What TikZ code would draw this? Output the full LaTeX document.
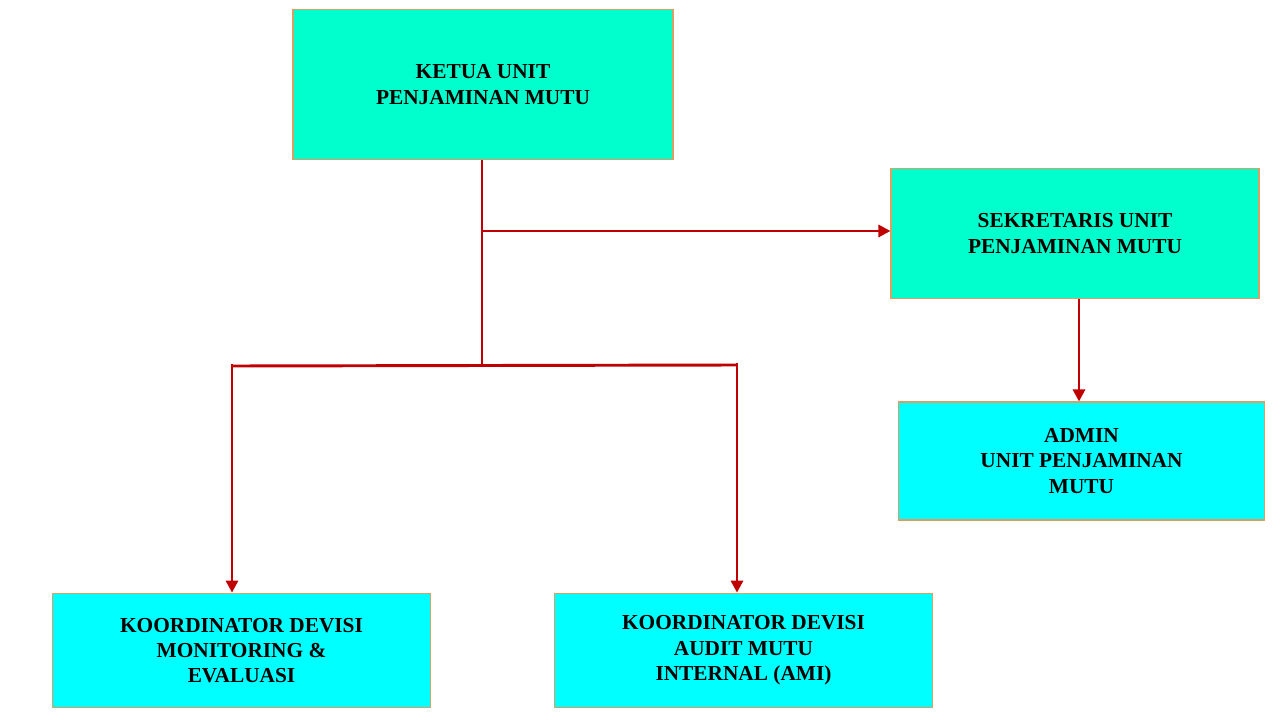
\documentclass[tikz,border=0pt]{standalone}
\usepackage{fontspec}
\setmainfont{Liberation Serif}
\usetikzlibrary{arrows.meta}
\definecolor{aqua}{HTML}{00FFCC}
\definecolor{cyanb}{HTML}{00FFFF}
\definecolor{bord}{HTML}{D9A066}
\definecolor{ln}{HTML}{C00000}
\tikzset{
 box/.style={draw=bord,line width=0.8pt,align=center,font=\fontsize{16}{19}\selectfont\bfseries,inner sep=0pt},
 conn/.style={ln,line width=2.2pt,-{Triangle[length=9pt,width=9pt]}},
 seg/.style={ln,line width=2.2pt}
}
\begin{document}
\begin{tikzpicture}[x=0.75pt,y=-0.75pt]
\useasboundingbox (0,0) rectangle (1280,720);
\node[box,fill=aqua,minimum width=285pt,minimum height=113pt] (k) at (483,84.5) {KETUA UNIT\\PENJAMINAN MUTU};
\node[box,fill=aqua,minimum width=276pt,minimum height=98pt] (s) at (1075,233.5) {SEKRETARIS UNIT\\PENJAMINAN MUTU};
\node[box,fill=cyanb,minimum width=275pt,minimum height=88.5pt] (a) at (1081.5,461) {ADMIN\\UNIT PENJAMINAN\\MUTU};
\node[box,fill=cyanb,minimum width=284pt,minimum height=86pt] (m) at (241.5,650.5) {KOORDINATOR DEVISI\\MONITORING \&\\EVALUASI};
\node[box,fill=cyanb,minimum width=284pt,minimum height=86pt] (i) at (743.5,650.5) {KOORDINATOR DEVISI\\AUDIT MUTU\\INTERNAL (AMI)};
\coordinate (j1) at (482,231);
\coordinate (j2) at (482,365);
\coordinate (l) at (232,366);
\coordinate (r) at (737,365);
\draw[seg] (k.south -| j1) -- (j2);
\draw[conn] (j1) -- (s.west |- j1);
\draw[seg] (l) -- (r);
\draw[conn] ([yshift=1.5pt]l) -- (l |- m.north);
\draw[conn] ([yshift=1.5pt]r) -- (r |- i.north);
\draw[conn] (s.south -| 1079,0) -- (a.north -| 1079,0);
\end{tikzpicture}
\end{document}
